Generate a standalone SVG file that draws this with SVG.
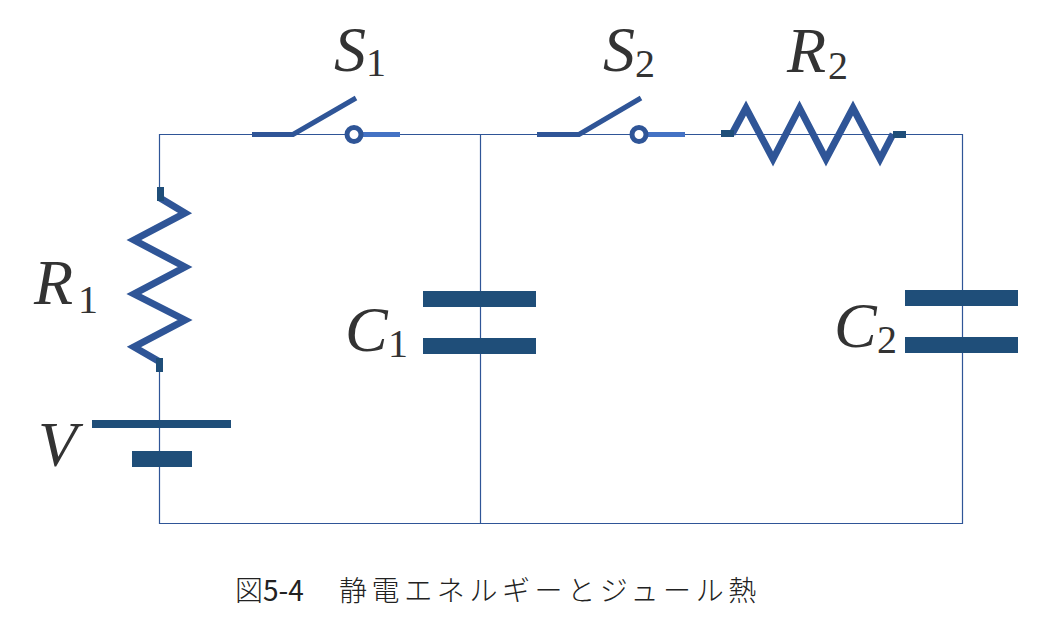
<svg xmlns="http://www.w3.org/2000/svg" width="1058" height="621" viewBox="0 0 1058 621">
<style>
.wire{fill:none;stroke:#2F5597;stroke-width:1.2}
.sw{fill:none;stroke:#2F5597;stroke-width:5}
.sw2{fill:none;stroke:#4472C4;stroke-width:5}
.zig{fill:none;stroke:#2F5597;stroke-width:7;stroke-miterlimit:10}
.plate{fill:#1F4E79}
.m{font-family:"Liberation Serif",serif;font-style:italic;font-size:64px;fill:#333}
.s{font-family:"Liberation Serif",serif;font-size:40px;fill:#333}
.cap{font-family:"Noto Sans CJK JP","Noto Sans",sans-serif;font-size:28px;font-weight:300;fill:#222}
</style>
<rect width="1058" height="621" fill="#fff"/>
<g id="connectors">
<path class="wire" d="M252 134.500H962.500V523.500H159.500V370M159.500 187V134.500H252M480.500 134.500V523.500"/>
</g>
<g id="S1">
<path class="sw" d="M252 134.500H293L356 98"/>
<path class="sw2" d="M361 134.500H400"/>
<circle class="sw" cx="354" cy="134.500" r="7" style="fill:#fff"/>
<text class="m" x="334" y="71">S</text><text class="s" x="366" y="76">1</text>
</g>
<g id="S2">
<path class="sw" d="M537 134.500H579L641 98"/>
<path class="sw2" d="M646 134.500H685"/>
<circle class="sw" cx="639" cy="134.500" r="7" style="fill:#fff"/>
<text class="m" x="603" y="71">S</text><text class="s" x="635" y="77">2</text>
</g>
<g id="R2">
<path class="zig" d="M732 134L746 108L773 159L799.500 108L826 159L853 108L880 159L893 134"/>
<rect class="plate" x="721" y="130" width="13" height="7"/>
<rect class="plate" x="893" y="131" width="13" height="7"/>
<text class="m" x="787" y="72">R</text><text class="s" x="828" y="79">2</text>
</g>
<g id="R1">
<path class="zig" d="M160 198L185 213L134 240L185 267L134 294L185 320L134 347L160 362"/>
<rect class="plate" x="157" y="187" width="7" height="14"/>
<rect class="plate" x="156" y="358" width="7" height="14"/>
<text class="m" x="34" y="304">R</text><text class="s" x="78" y="313">1</text>
</g>
<g id="V">
<rect class="plate" x="92" y="420" width="139" height="8"/>
<rect class="plate" x="132" y="451" width="60" height="16"/>
<text class="m" x="38" y="466">V</text>
</g>
<g id="C1">
<rect class="plate" x="423" y="291" width="113" height="16"/>
<rect class="plate" x="423" y="338" width="113" height="16"/>
<text class="m" x="345" y="351">C</text><text class="s" x="388" y="357">1</text>
</g>
<g id="C2">
<rect class="plate" x="905" y="290" width="113" height="16"/>
<rect class="plate" x="905" y="337" width="113" height="16"/>
<text class="m" x="834" y="347">C</text><text class="s" x="877" y="353">2</text>
</g>
<g id="caption">
<text class="cap" x="235" y="601">図<tspan font-weight="400">5-4</tspan><tspan x="339" letter-spacing="4.600">静電エネルギーとジュール熱</tspan></text>
</g>
</svg>
